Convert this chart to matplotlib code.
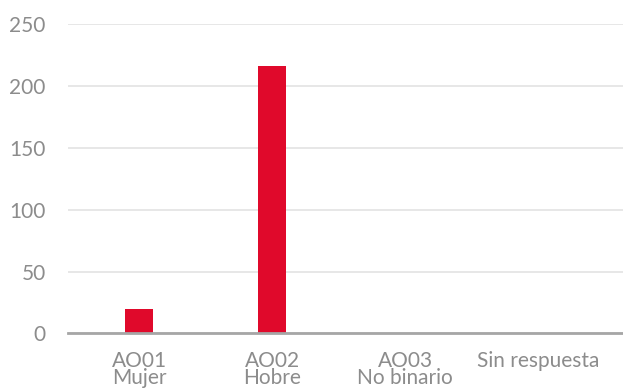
import matplotlib.pyplot as plt

categories = ["AO01\nMujer", "AO02\nHobre", "AO03\nNo binario", "Sin respuesta"]
values = [20, 216, 0, 0]
y_ticks = [0, 50, 100, 150, 200, 250]

bar_color = "#E0092B"
text_color = "#8C8C8C"

plt.rcParams["font.family"] = ["Lato", "DejaVu Sans"]

fig = plt.figure(figsize=(6.23, 3.9), dpi=100)
W, H = 623, 390
left, right = 68, 623
bottom, top = 333.3, 24.3
ax = fig.add_axes([left / W, 1 - bottom / H, (right - left) / W, (bottom - top) / H])

x = list(range(len(categories)))
ax.bar(x, values, width=0.21, color=bar_color, zorder=3)

ax.set_xlim(-0.536, 3.64)
ax.set_ylim(0, 250)
ax.set_yticks(y_ticks)
ax.set_yticklabels([str(t) for t in y_ticks], fontsize=15, color=text_color)
ax.set_xticks(x)
ax.set_xticklabels(categories, fontsize=15, color=text_color, linespacing=0.8)

ax.grid(axis="y", color="#E3E3E3", linewidth=1.2, zorder=0)
ax.tick_params(axis="both", length=0)
ax.tick_params(axis="y", pad=16)
ax.tick_params(axis="x", pad=13)

for s in ["top", "right", "left"]:
    ax.spines[s].set_visible(False)
ax.spines["bottom"].set_color("#A6A6A6")
ax.spines["bottom"].set_linewidth(2)
ax.spines["bottom"].set_zorder(4)

fig.savefig("out.png", dpi=100)
